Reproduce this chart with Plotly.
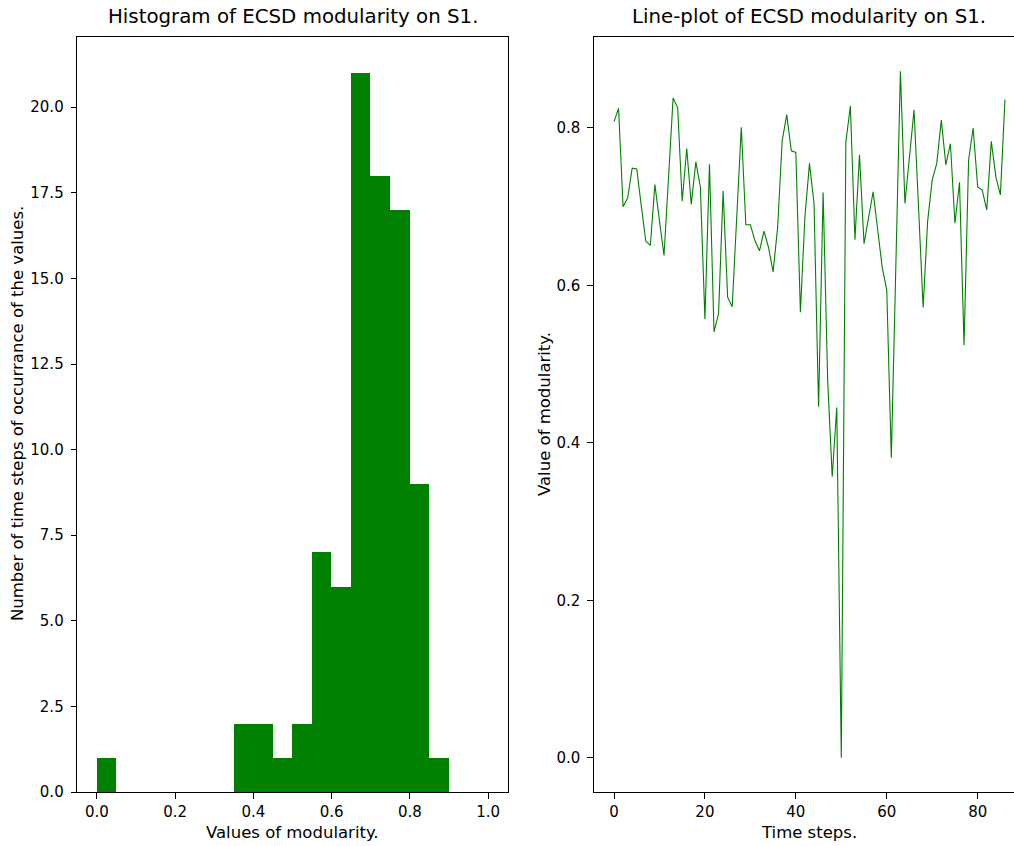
import plotly.graph_objects as go
import numpy as np

# Histogram data (20 bins of width 0.05 from 0 to 1)
bin_edges = np.linspace(0.0, 1.0, 21)
hist_counts = [1, 0, 0, 0, 0, 0, 0, 2, 2, 1, 2, 7, 6, 21, 18, 17, 9, 1, 0, 0]

# Line plot data: modularity per time step
modularity = [
    0.808, 0.825, 0.700, 0.711, 0.749, 0.748, 0.701, 0.656, 0.651, 0.728,
    0.682, 0.638, 0.737, 0.838, 0.826, 0.707, 0.774, 0.703, 0.757, 0.725,
    0.557, 0.754, 0.541, 0.564, 0.720, 0.585, 0.573, 0.693, 0.801, 0.677,
    0.677, 0.657, 0.644, 0.669, 0.648, 0.617, 0.674, 0.784, 0.817, 0.771,
    0.769, 0.566, 0.687, 0.755, 0.704, 0.446, 0.718, 0.480, 0.357, 0.445,
    0.000, 0.782, 0.828, 0.658, 0.766, 0.653, 0.687, 0.719, 0.671, 0.623,
    0.594, 0.381, 0.625, 0.872, 0.704, 0.764, 0.823, 0.698, 0.572, 0.682,
    0.734, 0.755, 0.810, 0.753, 0.780, 0.679, 0.731, 0.524, 0.759, 0.800,
    0.725, 0.721, 0.696, 0.783, 0.738, 0.715, 0.836,
]
time_steps = list(range(len(modularity)))

hist_ticks = [0.0, 0.2, 0.4, 0.6, 0.8, 1.0]
hist_yticks = [0.0, 2.5, 5.0, 7.5, 10.0, 12.5, 15.0, 17.5, 20.0]
line_xticks = [0, 20, 40, 60, 80]
line_yticks = [0.0, 0.2, 0.4, 0.6, 0.8]

W, H = 1014, 846
GREEN = "#008000"
FONT = "DejaVu Sans"

centers = [(bin_edges[i] + bin_edges[i + 1]) / 2 for i in range(len(hist_counts))]
widths = [bin_edges[i + 1] - bin_edges[i] for i in range(len(hist_counts))]

fig = go.Figure()
fig.add_trace(go.Bar(x=centers, y=hist_counts, width=widths, marker=dict(color=GREEN, line=dict(width=0)),
                     xaxis="x", yaxis="y", showlegend=False))
fig.add_trace(go.Scatter(x=time_steps, y=modularity, mode="lines", line=dict(color=GREEN, width=1.1),
                         xaxis="x2", yaxis="y2", showlegend=False))

top_px, bot_px = 37, 792
ydom = [(H - bot_px) / H, (H - top_px) / H]

axis_common = dict(showgrid=False, zeroline=False, showline=True, linecolor="black", linewidth=1.2,
                   mirror=True, ticks="outside", ticklen=5.5, tickwidth=1.2, tickcolor="black",
                   automargin=False,
                   tickfont=dict(family=FONT, size=15, color="black"))
xaxis_extra = dict(ticklabelstandoff=0)
yaxis_extra = dict(ticklabelstandoff=4)

# Line plot x: 0 at px 614, 4.546 px per unit; plot spans from 594 to page edge
x2_left = (594 - 614) / 4.546
x2_right = (W - 614) / 4.546
ymin = min(modularity); ymax = max(modularity); sp = ymax - ymin

fig.update_layout(
    width=W, height=H,
    margin=dict(l=0, r=0, t=0, b=0, autoexpand=False),
    paper_bgcolor="white", plot_bgcolor="white",
    bargap=0,
    xaxis=dict(domain=[77.3 / W, 507.7 / W], range=[-0.05, 1.05], tickvals=hist_ticks,
               tickformat=".1f", anchor="y", **axis_common, **xaxis_extra),
    yaxis=dict(domain=ydom, range=[0, max(hist_counts) * 1.05], tickvals=hist_yticks,
               tickformat=".1f", anchor="x", **axis_common, **yaxis_extra),
    xaxis2=dict(domain=[594 / W, 1.0], range=[x2_left, x2_right], tickvals=line_xticks,
                anchor="y2", **axis_common, **xaxis_extra),
    yaxis2=dict(domain=ydom, range=[ymin - 0.05 * sp, ymax + 0.05 * sp], tickvals=line_yticks,
                tickformat=".1f", anchor="x2", **axis_common, **yaxis_extra),
)

def ann(text, x, y, size, angle=0):
    fig.add_annotation(text=text, x=x / W, y=1 - y / H, xref="paper", yref="paper",
                       showarrow=False, xanchor="center", yanchor="middle", textangle=angle,
                       font=dict(family=FONT, size=size, color="black"))

ann("Histogram of ECSD modularity on S1.", 292.5, 16, 19.8)
ann("Line-plot of ECSD modularity on S1.", 809, 16, 19.8)
ann("Values of modularity.", 292.5, 832, 16.5)
ann("Time steps.", 809, 832, 16.5)
ann("Number of time steps of occurrance of the values.", 18, 414, 16.5, -90)
ann("Value of modularity.", 545, 414, 16.5, -90)

fig.write_html("out.html")
